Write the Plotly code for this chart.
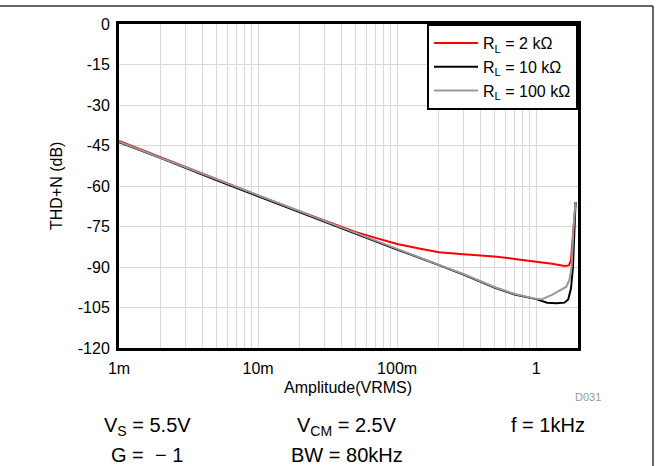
import plotly.graph_objects as go

# ---- data ----
amp_red = [0.001, 0.002, 0.005, 0.01, 0.02, 0.05, 0.07, 0.1, 0.15, 0.2, 0.3, 0.5, 0.7, 1.0, 1.3, 1.6, 1.72, 1.78, 1.85, 1.92]
thd_red = [-43.3, -49.4, -57.5, -63.5, -69.4, -77.0, -79.2, -81.5, -83.3, -84.5, -85.3, -86.1, -87.0, -88.0, -88.8, -89.6, -89.4, -87.5, -78.0, -66.0]

amp_10k = [0.001, 0.002, 0.005, 0.01, 0.02, 0.05, 0.1, 0.2, 0.3, 0.5, 0.7, 1.0, 1.2, 1.4, 1.6, 1.7, 1.78, 1.84, 1.88, 1.92]
thd_10k = [-43.8, -49.7, -57.8, -63.8, -69.8, -77.6, -83.5, -89.3, -92.8, -97.6, -100.2, -101.9, -103.2, -103.4, -103.2, -102.0, -98.0, -90.0, -80.0, -66.0]

amp_100k = [0.001, 0.002, 0.005, 0.01, 0.02, 0.05, 0.1, 0.2, 0.3, 0.5, 0.7, 1.0, 1.1, 1.3, 1.5, 1.65, 1.74, 1.8, 1.86, 1.92]
thd_100k = [-43.6, -49.6, -57.6, -63.6, -69.6, -77.4, -83.3, -89.2, -92.6, -97.4, -100.0, -101.8, -101.9, -100.3, -98.6, -97.3, -94.5, -90.0, -75.0, -66.0]

series_names = ["R<sub>L</sub> = 2 k\u03a9", "R<sub>L</sub> = 10 k\u03a9", "R<sub>L</sub> = 100 k\u03a9"]
series_colors = ["#ff0000", "#000000", "#999999"]

x_tickvals = [0.001, 0.01, 0.1, 1]
x_ticktext = ["1m", "10m", "100m", "1"]
y_tickvals = [0, -15, -30, -45, -60, -75, -90, -105, -120]
y_ticktext = ["0", "-15", "-30", "-45", "-60", "-75", "-90", "-105", "-120"]

FONT = "Liberation Sans, Arial, Helvetica, sans-serif"

fig = go.Figure()
for xs, ys, name, col in zip([amp_red, amp_10k, amp_100k], [thd_red, thd_10k, thd_100k], series_names, series_colors):
    fig.add_trace(go.Scatter(x=xs, y=ys, mode="lines", name=name,
                             line=dict(color=col, width=2)))

# plot area in pixels: x 119..578, y 24..348
L, R, T, B = 119, 578, 24, 348
W, H = 660, 466
def px(x):
    return (x - L) / (R - L)
def py(y):
    return (B - y) / (B - T)

grid = "#d9d9d9"
fig.update_layout(
    width=W, height=H,
    margin=dict(l=L, r=W - R, t=T, b=H - B, pad=0),
    paper_bgcolor="white", plot_bgcolor="white",
    font=dict(family=FONT, size=16, color="black"),
    showlegend=True,
    legend=dict(x=1, y=1, xanchor="right", yanchor="top",
                bgcolor="white", bordercolor="black", borderwidth=2,
                font=dict(size=16, family=FONT), tracegroupgap=0,
                itemwidth=44),
    xaxis=dict(type="log", range=[-3, 0.301],
               tickmode="array", tickvals=x_tickvals, ticktext=x_ticktext,
               showgrid=True, gridcolor=grid, gridwidth=1,
               minor=dict(dtick="D1", showgrid=True, gridcolor=grid, gridwidth=1),
               showline=True, linecolor="black", linewidth=3, mirror=True,
               ticks="outside", ticklen=4, tickcolor="rgba(0,0,0,0)",
               zeroline=False, tickfont=dict(size=16)),
    yaxis=dict(range=[-120, 0],
               tickmode="array", tickvals=y_tickvals, ticktext=y_ticktext,
               showgrid=True, gridcolor=grid, gridwidth=1,
               showline=True, linecolor="black", linewidth=3, mirror=True,
               ticks="outside", ticklen=3, tickcolor="rgba(0,0,0,0)",
               zeroline=False, tickfont=dict(size=16)),
)

# frame lines (top and right)
fig.add_shape(type="line", xref="paper", yref="paper",
              x0=px(0), x1=px(653), y0=py(6), y1=py(6),
              line=dict(color="#333333", width=1.5))
fig.add_shape(type="line", xref="paper", yref="paper",
              x0=px(653), x1=px(653), y0=py(6), y1=py(470),
              line=dict(color="#333333", width=1.5))

def ann(text, x, y, size, color="black", angle=0):
    fig.add_annotation(text=text, xref="paper", yref="paper",
                       x=px(x), y=py(y), xanchor="center", yanchor="middle",
                       showarrow=False, textangle=angle,
                       font=dict(size=size, color=color, family=FONT))

ann("Amplitude(VRMS)", 348, 387, 16)
ann("THD+N (dB)", 56, 186, 16, angle=-90)
ann("D031", 588, 397, 11, color="#9a9a9a")
ann("V<sub>S</sub> = 5.5V", 147, 426, 20)
ann("G = \u00a0\u2212 1", 147, 455, 20)
ann("V<sub>CM</sub> = 2.5V", 347, 426, 20)
ann("BW = 80kHz", 347, 455, 20)
ann("f = 1kHz", 548, 425, 20)

fig.write_html("out.html",
               config={"displayModeBar": False},
               post_script="document.body.style.margin='0';document.body.style.overflow='hidden';")
